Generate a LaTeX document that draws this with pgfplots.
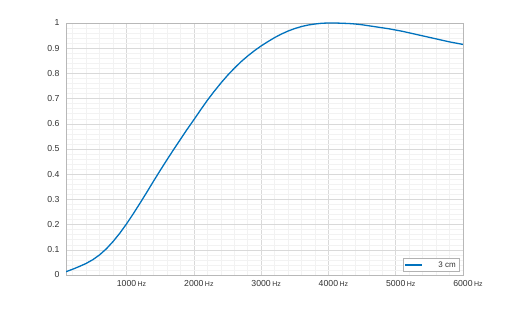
\documentclass[border=0pt]{standalone}
\usepackage{fontspec}
\setmainfont{Liberation Sans}
\usepackage{pgfplots}
\pgfplotsset{compat=1.18}
\definecolor{mblue}{RGB}{0,114,189}
\definecolor{tickgray}{RGB}{50,50,50}
\newcommand{\hz}{\,{\fontsize{7}{8}\selectfont Hz}}
\begin{document}
\begin{tikzpicture}
\path[use as bounding box] (-66pt,-35pt) rectangle (446pt,275pt);
\begin{axis}[
  anchor=origin,
  at={(0,0)},
  scale only axis,
  width=397pt, height=252pt,
  xmin=100, xmax=6000, ymin=0, ymax=1,
  xtick={1000,2000,3000,4000,5000,6000},
  xticklabels={1000\hz,2000\hz,3000\hz,4000\hz,5000\hz,6000\hz},
  ytick={0,0.1,0.2,0.3,0.4,0.5,0.6,0.7,0.8,0.9,1},
  yticklabels={0,0.1,0.2,0.3,0.4,0.5,0.6,0.7,0.8,0.9,1},
  minor xtick={200,400,...,5800},
  minor ytick={0.02,0.04,...,0.99},
  major tick length=0pt, minor tick length=0pt,
  grid=both,
  major grid style={draw=black!15, line width=0.5pt},
  minor grid style={draw=black!5, line width=0.5pt},
  axis line style={draw=black!28, line width=0.6pt},
  tick label style={font=\fontsize{8.7}{10}\selectfont, text=tickgray},
  xticklabel style={yshift=-2pt, xshift=5pt},
  yticklabel style={xshift=-3pt},
  /pgf/number format/assume math mode=true,
  legend style={at={(0.99,0.013)}, anchor=south east, draw=black!30, font=\fontsize{8}{9}\selectfont, text=tickgray, inner sep=1pt, row sep=0pt, legend cell align=right},
  legend image post style={line width=1.3pt},
  legend entries={\hspace{14pt}3 cm},
]
\addplot[mblue, line width=1.3pt] coordinates {
(100,0.013)(200,0.023)(300,0.034)(400,0.046)(500,0.061)(600,0.080)(700,0.104)(800,0.133)(900,0.166)(1000,0.203)
(1100,0.243)(1200,0.285)(1300,0.328)(1400,0.372)(1500,0.415)(1600,0.457)(1700,0.498)(1800,0.538)(1900,0.578)(2000,0.616)
(2100,0.655)(2200,0.693)(2300,0.728)(2400,0.761)(2500,0.792)(2600,0.820)(2700,0.846)(2800,0.869)(2900,0.890)(3000,0.909)
(3100,0.926)(3200,0.942)(3300,0.956)(3400,0.968)(3500,0.978)(3600,0.986)(3700,0.992)(3800,0.996)(3900,0.999)(4000,1.000)
(4100,1.000)(4200,0.999)(4300,0.998)(4400,0.996)(4500,0.993)(4600,0.989)(4700,0.985)(4800,0.981)(4900,0.977)(5000,0.972)
(5100,0.967)(5200,0.961)(5300,0.955)(5400,0.949)(5500,0.943)(5600,0.937)(5700,0.931)(5800,0.925)(5900,0.920)(6000,0.915)
};
\end{axis}
\end{tikzpicture}
\end{document}
